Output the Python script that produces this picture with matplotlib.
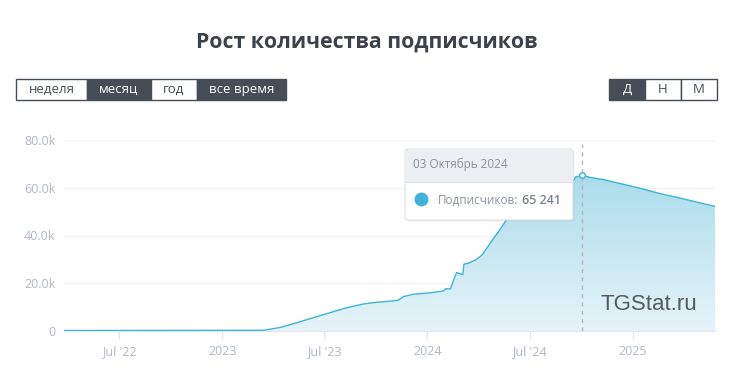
import numpy as np
import pandas as pd
import matplotlib
matplotlib.use("Agg")
import matplotlib.pyplot as plt
from matplotlib.patches import FancyBboxPatch, Rectangle
from matplotlib.colors import LinearSegmentedColormap

plt.rcParams['font.family'] = ['Open Sans', 'DejaVu Sans']

# Subscriber counts
dates = ["2022-03-25", "2023-03-15", "2023-04-14", "2023-05-14", "2023-06-12",
         "2023-07-12", "2023-08-11", "2023-09-09", "2023-09-27", "2023-10-27",
         "2023-11-10", "2023-11-19", "2023-12-07", "2024-01-06", "2024-01-30",
         "2024-02-02", "2024-02-11", "2024-02-16", "2024-02-22", "2024-02-29",
         "2024-03-04", "2024-03-06", "2024-03-15", "2024-03-27", "2024-04-08",
         "2024-04-25", "2024-05-10", "2024-05-28", "2024-06-15", "2024-07-03",
         "2024-07-20", "2024-08-13", "2024-09-03", "2024-09-15", "2024-09-21",
         "2024-10-03", "2024-10-17", "2024-11-10", "2024-11-22", "2024-12-23",
         "2025-01-20", "2025-02-19", "2025-03-22", "2025-04-19", "2025-05-27"]
subs = [200, 300, 1500, 3500, 5600,
        7700, 9800, 11300, 11900, 12500,
        12900, 14400, 15400, 16000, 16800,
        17700, 17600, 21000, 24500, 23900,
        23600, 28000, 28500, 29800, 32000,
        37900, 42800, 49100, 53300, 56100,
        57800, 60000, 61500, 62300, 64500,
        65241, 64300, 63400, 62700, 61000,
        59400, 57500, 55900, 54300, 52200]

yticks = [0, 20000, 40000, 60000, 80000]
ytick_labels = ["0", "20.0k", "40.0k", "60.0k", "80.0k"]
xticks = ["2022-07-01", "2023-01-01", "2023-07-01", "2024-01-01", "2024-07-01", "2025-01-01"]
xtick_labels = ["Jul '22", "2023", "Jul '23", "2024", "Jul '24", "2025"]

tooltip_date = "2024-10-03"
tooltip_title = "03 Октябрь 2024"
tooltip_value = "65 241"

periods = ["неделя", "месяц", "год", "все время"]
period_active = [False, True, False, True]
scales = ["Д", "Н", "М"]
scale_active = [True, False, False]

x = pd.to_datetime(dates)
W, H = 733, 376
fig = plt.figure(figsize=(W / 100, H / 100), dpi=100)

line_c = "#3fb4d6"
dark = "#474d57"
text_grey = "#b0b8c3"

fig.text(367 / W, 1 - 42 / H, "Рост количества подписчиков", ha="center", va="center",
         fontsize=15.3, fontweight="bold", color="#3d424a")

# segmented buttons
def buttons(labels, active, edges, y0, y1):
    for lab, act, a, b in zip(labels, active, edges[:-1], edges[1:]):
        r = Rectangle((a / W, 1 - y1 / H), (b - a) / W, (y1 - y0) / H, transform=fig.transFigure,
                      facecolor=dark if act else "white", edgecolor=dark, linewidth=1.0)
        fig.add_artist(r)
        fig.text((a + b) / 2 / W, 1 - (y0 + y1) / 2 / H, lab, ha="center", va="center",
                 fontsize=9.5, color="white" if act else dark)

buttons(periods, period_active, [16, 87, 151, 197, 286], 79, 100)
buttons(scales, scale_active, [609, 645, 681, 717], 79, 100)

ax = fig.add_axes([64 / W, 1 - 331 / H, 651 / W, 191 / H])
ax.set_xlim(pd.Timestamp("2022-03-25"), pd.Timestamp("2025-05-27"))
ax.set_ylim(0, 80000)

# gradient area
poly = ax.fill_between(x, subs, 0, color="none", linewidth=0)
cmap = LinearSegmentedColormap.from_list("g", ["#e6f4f9", "#a6daea"])
grad = np.linspace(0, 1, 256).reshape(-1, 1)
xl = ax.get_xlim()
img = ax.imshow(grad, cmap=cmap, origin="lower", aspect="auto",
                extent=[xl[0], xl[1], 0, 70000], zorder=1)
img.set_clip_path(poly.get_paths()[0], transform=ax.transData)
ax.plot(x, subs, color=line_c, linewidth=1.0, zorder=3)
ax.set_xlim(xl)
ax.set_ylim(0, 80000)

for s in ["top", "right", "left"]:
    ax.spines[s].set_visible(False)
ax.spines["bottom"].set_color("#e3e6ea")
ax.set_yticks(yticks)
ax.set_yticklabels(ytick_labels)
ax.set_xticks(pd.to_datetime(xticks))
ax.set_xticklabels(xtick_labels)
ax.tick_params(axis="y", length=0, pad=6, labelsize=9, labelcolor=text_grey)
ax.tick_params(axis="x", length=6, width=1, color="#e3e6ea", pad=4, labelsize=9, labelcolor=text_grey)
ax.grid(axis="y", color="#f2f3f5", linewidth=1, zorder=0)
ax.set_axisbelow(True)

# hover line and marker
tx = pd.Timestamp(tooltip_date)
ax.axvline(tx, ymax=0.98, color="#b5b9bf", linestyle=(0, (3, 3)), linewidth=1, zorder=4)
ax.plot([tx], [65241], marker="o", markersize=4, markerfacecolor="white",
        markeredgecolor=line_c, markeredgewidth=1, zorder=5)

# watermark
ax.text(0.898, 0.14, "TGStat.ru", transform=ax.transAxes, ha="center", va="center",
        fontsize=16, color="#555a60", family=["Liberation Sans", "DejaVu Sans"], zorder=6)

# tooltip
bx0, bx1, by0, by1 = 405, 573, 149, 220
shadow = FancyBboxPatch((bx0 / W + 0.002, 1 - by1 / H - 0.004), (bx1 - bx0) / W, (by1 - by0) / H,
                        boxstyle="round,pad=0,rounding_size=0.005", transform=fig.transFigure,
                        facecolor="#000000", alpha=0.06, edgecolor="none", zorder=8)
fig.add_artist(shadow)
box = FancyBboxPatch((bx0 / W, 1 - by1 / H), (bx1 - bx0) / W, (by1 - by0) / H,
                     boxstyle="round,pad=0,rounding_size=0.005", transform=fig.transFigure,
                     facecolor="white", edgecolor="#dde1e5", linewidth=0.8, zorder=9)
fig.add_artist(box)
head = Rectangle(((bx0 + 0.5) / W, 1 - 182 / H), (bx1 - bx0 - 1) / W, (182 - by0 - 1) / H,
                 transform=fig.transFigure, facecolor="#eceef1", edgecolor="none", zorder=10)
fig.add_artist(head)
fig.add_artist(plt.Line2D([bx0 / W, bx1 / W], [1 - 182 / H, 1 - 182 / H], transform=fig.transFigure,
                          color="#dde1e5", linewidth=0.8, zorder=11))
fig.text(413 / W, 1 - 164 / H, tooltip_title, ha="left", va="center", fontsize=8.5,
         color="#8d939b", zorder=12)
fig.add_artist(plt.Line2D([421 / W], [1 - 199 / H], marker="o", markersize=9,
                          color=line_c, transform=fig.transFigure, zorder=12))
fig.text(438 / W, 1 - 200 / H, "Подписчиков:", ha="left", va="center", fontsize=8.5,
         color="#8d939b", zorder=12)
fig.text(522 / W, 1 - 200 / H, tooltip_value, ha="left", va="center", fontsize=9,
         fontweight="semibold", color="#7d838b", zorder=12)

fig.savefig("out.png", dpi=100)
